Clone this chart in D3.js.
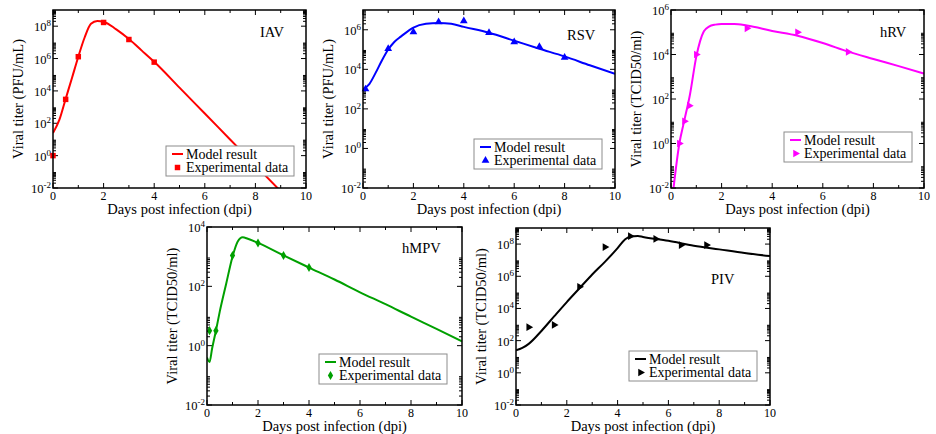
<!DOCTYPE html>
<html>
<head>
<meta charset="utf-8">
<script src="https://cdn.jsdelivr.net/npm/d3@7/dist/d3.min.js"></script>
<style>
  body { margin: 0; background: #fff; }
  text { font-family: "Liberation Serif", "Times New Roman", serif; fill: #000; }
</style>
</head>
<body>
<div id="chart"></div>
<script>
// ---- data (days post infection, viral titer) ----
var iavModelX = [0, 0.25, 0.5, 0.75, 1, 1.25, 1.5, 1.75, 2, 2.5, 3, 3.5, 4, 5, 6, 7, 8, 9];
var iavModelY = [25, 160, 3.2e3, 6.3e4, 1.3e6, 2.0e7, 1.4e8, 2.1e8, 1.9e8, 6.3e7, 1.6e7, 3.2e6, 6.3e5, 1.6e4, 400, 10, 0.25, 6.3e-3];
var iavDataX = [0, 0.5, 1, 2, 3, 4];
var iavDataY = [1, 3e3, 1.3e6, 1.7e8, 1.5e7, 6e5];

var rsvModelX = [0, 0.25, 0.5, 0.75, 1, 1.25, 1.5, 2, 2.5, 3, 3.5, 4, 5, 6, 7, 8, 9, 10];
var rsvModelY = [1.0e3, 1.8e3, 6.6e3, 2.8e4, 1.0e5, 2.5e5, 4.5e5, 1.3e6, 2.0e6, 2.2e6, 2.0e6, 1.4e6, 7.1e5, 2.8e5, 1.1e5, 4.5e4, 1.6e4, 5.9e3];
var rsvDataX = [0.1, 1, 2, 3, 4, 5, 6, 7, 8];
var rsvDataY = [1e3, 1.1e5, 7.8e5, 2.5e6, 2.8e6, 7e5, 2.4e5, 1.4e5, 4e4];

var hrvModelX = [0.1, 0.33, 0.5, 0.75, 1, 1.15, 1.3, 1.5, 1.75, 2, 2.5, 3, 4, 5, 6, 7, 8, 9, 10];
var hrvModelY = [0.01, 1, 8, 160, 8e3, 4e4, 1.1e5, 1.8e5, 2.2e5, 2.35e5, 2.35e5, 2.0e5, 1.15e5, 7e4, 3.3e4, 1.35e4, 6.3e3, 3e3, 1.4e3];
var hrvDataX = [0.33, 0.53, 0.72, 1, 3, 5, 7];
var hrvDataY = [1, 10, 50, 1e4, 1.5e5, 1e5, 1.3e4];

var hmpvModelX = [0, 0.1, 0.2, 0.35, 0.5, 0.75, 1, 1.2, 1.4, 1.6, 2, 3, 4, 5, 6, 7, 8, 9, 10];
var hmpvModelY = [0.4, 0.28, 0.8, 3.2, 14, 120, 1.0e3, 3.2e3, 4.5e3, 4.0e3, 2.9e3, 1.1e3, 430, 170, 63, 25, 9.5, 3.7, 1.4];
var hmpvDataX = [0.1, 0.35, 1, 2, 3, 4];
var hmpvDataY = [3.2, 3.2, 1.1e3, 2.9e3, 1.1e3, 430];

var pivModelX = [0, 0.25, 0.5, 1, 1.5, 2, 2.5, 3, 3.5, 4, 4.3, 4.5, 4.8, 5, 6, 7, 8, 9, 10];
var pivModelY = [25, 35, 63, 400, 3.2e3, 2.5e4, 1.8e5, 1.3e6, 7.9e6, 5.6e7, 2.0e8, 3.0e8, 3.2e8, 2.8e8, 1.6e8, 7.9e7, 4.7e7, 2.8e7, 1.8e7];
var pivDataX = [0.5, 1.5, 2.5, 3.5, 4.5, 5.5, 6.5, 7.5];
var pivDataY = [680, 950, 2.2e5, 6.5e7, 3.1e8, 2.1e8, 8.7e7, 8.7e7];

var panelNames = ["IAV", "RSV", "hRV", "hMPV", "PIV"];
var yTitles = ["Viral titer (PFU/mL)", "Viral titer (PFU/mL)", "Viral titer (TCID50/ml)", "Viral titer (TCID50/ml)", "Viral titer (TCID50/ml)"];
var yMaxExp = [9, 7, 6, 4, 9];
var xTicks = [0, 2, 4, 6, 8, 10];
var legendLabels = ["Model result", "Experimental data"];
var xTitle = "Days post infection (dpi)";

// ---- layout ----
var svg = d3.select("#chart")
  .append("svg")
  .attr("width", 936)
  .attr("height", 434);

var panels = [
  { id: "iav", box: [53, 10, 306, 188], color: "#ff0000", sym: "square", legend: [166, 146], label: [260, 37],
    mx: iavModelX, my: iavModelY, dx: iavDataX, dy: iavDataY },
  { id: "rsv", box: [363, 10, 615, 188], color: "#0000ff", sym: "up", legend: [474, 139], label: [567, 40],
    mx: rsvModelX, my: rsvModelY, dx: rsvDataX, dy: rsvDataY },
  { id: "hrv", box: [671, 10, 924, 188], color: "#ff00ff", sym: "right", legend: [784, 132], label: [880, 37],
    mx: hrvModelX, my: hrvModelY, dx: hrvDataX, dy: hrvDataY },
  { id: "hmpv", box: [207, 227, 462, 405], color: "#00a000", sym: "diamond", legend: [319, 354], label: [402, 253],
    mx: hmpvModelX, my: hmpvModelY, dx: hmpvDataX, dy: hmpvDataY },
  { id: "piv", box: [516, 228, 770, 405], color: "#000000", sym: "right", legend: [629, 351], label: [711, 284],
    mx: pivModelX, my: pivModelY, dx: pivDataX, dy: pivDataY }
];

function symbolPath(type) {
  if (type == "square") return d3.symbol().type(d3.symbolSquare).size(30)();
  if (type == "diamond") return d3.symbol().type(d3.symbolDiamond).size(24)();
  return d3.symbol().type(d3.symbolTriangle).size(26)();
}

function drawMarker(g, type, cx, cy, color) {
  var rot = type == "right" ? 90 : 0;
  g.append("path")
    .attr("d", symbolPath(type))
    .attr("transform", "translate(" + cx + "," + cy + ") rotate(" + rot + ")")
    .attr("fill", color);
}

function powLabel(g, xPos, yPos, e) {
  var t = g.append("text")
    .attr("x", xPos)
    .attr("y", yPos)
    .attr("font-size", 12.5)
    .attr("text-anchor", "end");
  t.append("tspan").text("10");
  t.append("tspan").attr("font-size", 9).attr("dy", -5).text(e);
}

panels.forEach(function (p, i) {
  var L = p.box[0], T = p.box[1], R = p.box[2], B = p.box[3];
  var maxE = yMaxExp[i];
  var x = d3.scaleLinear().domain([0, 10]).range([L, R]);
  var y = d3.scaleLog().domain([1e-2, Math.pow(10, maxE)]).range([B, T]);
  var g = svg.append("g");

  g.append("clipPath")
    .attr("id", "clip-" + p.id)
    .append("rect")
    .attr("x", L).attr("y", T)
    .attr("width", R - L).attr("height", B - T);

  // ticks, inward on all four sides
  var majorE = d3.range(-2, maxE + 1, 2);
  var minorY = [];
  majorE.forEach(function (e) {
    d3.range(2, 10).forEach(function (k) {
      var v = k * Math.pow(10, e);
      if (v < Math.pow(10, maxE)) minorY.push(v);
    });
  });
  var ticks = g.append("g").attr("stroke", "#000").attr("stroke-width", 1);
  majorE.forEach(function (e) {
    var yy = y(Math.pow(10, e));
    ticks.append("line").attr("x1", L).attr("x2", L + 5).attr("y1", yy).attr("y2", yy);
    ticks.append("line").attr("x1", R).attr("x2", R - 5).attr("y1", yy).attr("y2", yy);
  });
  minorY.forEach(function (v) {
    var yy = y(v);
    ticks.append("line").attr("x1", L).attr("x2", L + 3).attr("y1", yy).attr("y2", yy);
    ticks.append("line").attr("x1", R).attr("x2", R - 3).attr("y1", yy).attr("y2", yy);
  });
  d3.range(0, 11).forEach(function (d) {
    var xx = x(d), len = d % 2 == 0 ? 5 : 3;
    ticks.append("line").attr("x1", xx).attr("x2", xx).attr("y1", B).attr("y2", B - len);
    ticks.append("line").attr("x1", xx).attr("x2", xx).attr("y1", T).attr("y2", T + len);
  });

  // tick labels
  majorE.forEach(function (e) {
    powLabel(g, L - 2, y(Math.pow(10, e)) + 5, e);
  });
  xTicks.forEach(function (d) {
    g.append("text")
      .attr("x", x(d))
      .attr("y", B + 11.5)
      .attr("font-size", 12)
      .attr("text-anchor", "middle")
      .text(d);
  });

  // axis titles
  g.append("text")
    .attr("x", (L + R) / 2)
    .attr("y", B + 26)
    .attr("font-size", 14.5)
    .attr("text-anchor", "middle")
    .text(xTitle);
  g.append("text")
    .attr("transform", "translate(" + (L - 30) + "," + ((T + B) / 2) + ") rotate(-90)")
    .attr("font-size", 14.5)
    .attr("text-anchor", "middle")
    .text(yTitles[i]);

  // model curve
  var line = d3.line()
    .x(function (d) { return x(d[0]); })
    .y(function (d) { return y(d[1]); })
    .curve(d3.curveMonotoneX);
  g.append("path")
    .datum(d3.zip(p.mx, p.my))
    .attr("clip-path", "url(#clip-" + p.id + ")")
    .attr("d", line)
    .attr("fill", "none")
    .attr("stroke", p.color)
    .attr("stroke-width", 2);

  // experimental points
  d3.zip(p.dx, p.dy).forEach(function (d) {
    drawMarker(g, p.sym, x(d[0]), y(d[1]), p.color);
  });

  // frame
  g.append("rect")
    .attr("x", L).attr("y", T)
    .attr("width", R - L).attr("height", B - T)
    .attr("fill", "none")
    .attr("stroke", "#000")
    .attr("stroke-width", 1.5);

  // panel label
  g.append("text")
    .attr("x", p.label[0])
    .attr("y", p.label[1])
    .attr("font-size", 14.5)
    .text(panelNames[i]);

  // legend
  var lx = p.legend[0], ly = p.legend[1];
  var lg = g.append("g");
  lg.append("rect")
    .attr("x", lx).attr("y", ly)
    .attr("width", 128).attr("height", 30)
    .attr("fill", "#fff")
    .attr("stroke", "#8c8c8c")
    .attr("stroke-width", 1);
  lg.append("line")
    .attr("x1", lx + 6).attr("x2", lx + 17)
    .attr("y1", ly + 8).attr("y2", ly + 8)
    .attr("stroke", p.color)
    .attr("stroke-width", 2);
  drawMarker(lg, p.sym, lx + 11.5, ly + 21.5, p.color);
  legendLabels.forEach(function (t, j) {
    lg.append("text")
      .attr("x", lx + 20)
      .attr("y", ly + 12.5 + j * 13.5)
      .attr("font-size", 14)
      .text(t);
  });
});
</script>
</body>
</html>
